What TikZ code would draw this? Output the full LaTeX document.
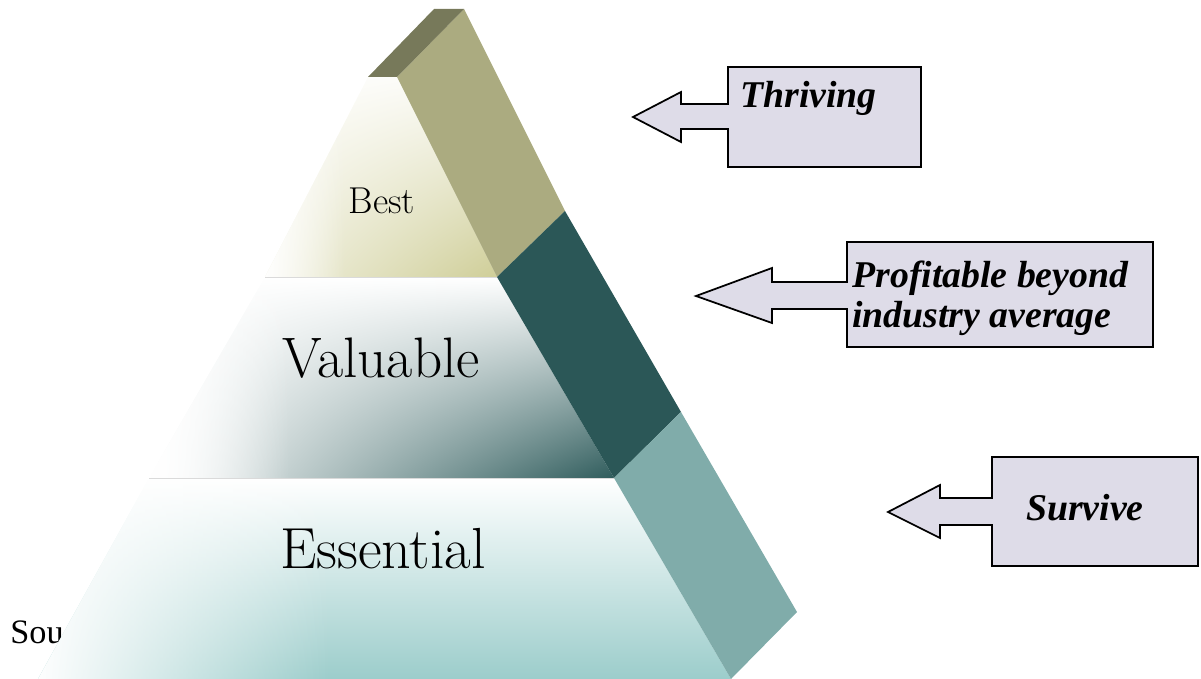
\documentclass[tikz,border=0pt]{standalone}
\usepackage{fontspec}
\newfontfamily\timesf{Liberation Serif}
\usetikzlibrary{fadings,shadings}
\definecolor{capc}{HTML}{77795A}
\definecolor{bestside}{HTML}{ABAB80}
\definecolor{valside}{HTML}{2B5757}
\definecolor{essside}{HTML}{80ACAA}
\definecolor{bestc}{HTML}{CFCE98}
\definecolor{valc}{HTML}{2F5C5C}
\definecolor{essc}{HTML}{9CCDCB}
\definecolor{boxc}{HTML}{DEDCE8}
\definecolor{sepc}{HTML}{DADADA}
\tikzfading[name=fadeoutright, left color=transparent!0, right color=transparent!100]
\tikzset{
  callout/.style={fill=boxc, draw=black, line width=1pt, line join=miter},
  calltext/.style={font=\timesf\bfseries\itshape\fontsize{21.5}{22.8}\selectfont, inner sep=0pt},
  pyrtext/.style={inner sep=0pt},
  leftfade/.style={white, path fading=fadeoutright}
}
\begin{document}
\begin{tikzpicture}[x=0.02cm,y=-0.02cm]
\useasboundingbox (0,0) rectangle (1201,679);
% source text (partly covered)
\node[font=\timesf\fontsize{19.5}{20}\selectfont, anchor=base west, inner sep=0pt] (src) at (10,643) {Sou};
% coordinates
\coordinate (T1) at (368,77);
\coordinate (T2) at (397,77);
\coordinate (C0) at (434,9);
\coordinate (S0) at (464,9);
\coordinate (S1) at (565,211);
\coordinate (S2) at (681,412);
\coordinate (S3) at (797,612);
\coordinate (L1) at (265,277);
\coordinate (L2) at (149,478);
\coordinate (L3) at (38,679);
\coordinate (R1) at (497,277);
\coordinate (R2) at (614,478);
\coordinate (R3) at (731,679);
% front faces
\shade[upper left=white, upper right=bestc!10, lower left=bestc!30, lower right=bestc] (T1) -- (T2) -- (R1) -- (L1) -- cycle;
\begin{scope}
  \clip (T1) -- (T2) -- (R1) -- (L1) -- cycle;
  \fill[leftfade] (262,77) rectangle (345,277);
\end{scope}
\shade[upper left=white, upper right=white, lower left=white, lower right=valc] (L1) -- (R1) -- (R2) -- (L2) -- cycle;
\begin{scope}
  \clip (L1) -- (R1) -- (R2) -- (L2) -- cycle;
  \fill[leftfade] (146,277) rectangle (290,478);
\end{scope}
\shade[top color=white, bottom color=essc] (L2) -- (R2) -- (R3) -- (L3) -- cycle;
\begin{scope}
  \clip (L2) -- (R2) -- (R3) -- (L3) -- cycle;
  \fill[leftfade] (34,478) rectangle (330,679);
\end{scope}
\draw[sepc, line width=0.5pt] (L1) -- (R1);
\draw[sepc, line width=0.5pt] (L2) -- (R2);
% side faces
\fill[bestside] (T2) -- (S0) -- (S1) -- (R1) -- cycle;
\fill[valside] (R1) -- (S1) -- (S2) -- (R2) -- cycle;
\fill[essside] (R2) -- (S2) -- (S3) -- (R3) -- cycle;
\fill[capc] (T1) -- (C0) -- (S0) -- (T2) -- cycle;
% labels
\node[pyrtext, font=\fontsize{21.3}{22}\selectfont] (best) at (382,201) {Best};
\node[pyrtext, font=\fontsize{32.5}{33}\selectfont] (valuable) at (381,358) {Valuable};
\node[pyrtext, font=\fontsize{33}{34}\selectfont] (essential) at (383,549) {Essential};
% callouts
\draw[callout] (728,67) -- (921,67) -- (921,167) -- (728,167) -- (728,129) -- (681,129) -- (681,142) -- (633,117) -- (681,92) -- (681,104) -- (728,104) -- cycle;
\draw[callout] (847,242) -- (1153,242) -- (1153,347) -- (847,347) -- (847,309) -- (772,309) -- (772,323) -- (696,296) -- (772,268) -- (772,282) -- (847,282) -- cycle;
\draw[callout] (992,457) -- (1198,457) -- (1198,566) -- (992,566) -- (992,525) -- (940,525) -- (940,538) -- (888,512) -- (940,485) -- (940,498) -- (992,498) -- cycle;
\node[calltext, anchor=base west] (thriving) at (740,108) {Thriving};
\node[calltext, align=left, anchor=base west] (profitable) at (852,287) {Profitable beyond};
\node[calltext, align=left, anchor=base west] (industry) at (852,327) {industry average};
\node[calltext, anchor=base] (survive) at (1085,520) {Survive};
\end{tikzpicture}
\end{document}
